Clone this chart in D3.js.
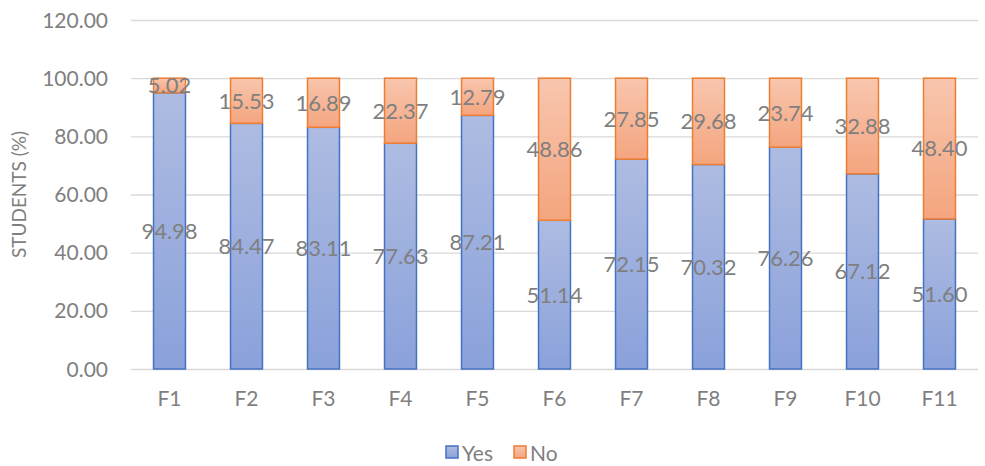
<!DOCTYPE html>
<html>
<head>
<meta charset="utf-8">
<script src="https://cdn.jsdelivr.net/npm/d3@7"></script>
<style>
  body { margin: 0; background: #fff; }
  svg text { font-family: Lato, "Open Sans", sans-serif; fill: #7f7f7f; }
</style>
</head>
<body>
<div id="chart"></div>
<script>
var categories = ["F1", "F2", "F3", "F4", "F5", "F6", "F7", "F8", "F9", "F10", "F11"];
var yesValues = [94.98, 84.47, 83.11, 77.63, 87.21, 51.14, 72.15, 70.32, 76.26, 67.12, 51.60];
var noValues = [5.02, 15.53, 16.89, 22.37, 12.79, 48.86, 27.85, 29.68, 23.74, 32.88, 48.40];
var yTicks = [0, 20, 40, 60, 80, 100, 120];
var seriesNames = ["Yes", "No"];

var width = 985, height = 466;
var margin = { top: 20, right: 7, bottom: 97, left: 131 };

var svg = d3.select("#chart").append("svg")
    .attr("width", width)
    .attr("height", height);

var defs = svg.append("defs");
var gBlue = defs.append("linearGradient").attr("id", "gradYes")
    .attr("x1", 0).attr("y1", 0).attr("x2", 0).attr("y2", 1);
gBlue.append("stop").attr("offset", "0%").attr("stop-color", "#aebce2");
gBlue.append("stop").attr("offset", "100%").attr("stop-color", "#8aa1da");
var gOrange = defs.append("linearGradient").attr("id", "gradNo")
    .attr("x1", 0).attr("y1", 0).attr("x2", 0).attr("y2", 1);
gOrange.append("stop").attr("offset", "0%").attr("stop-color", "#f8c6ae");
gOrange.append("stop").attr("offset", "100%").attr("stop-color", "#f4a57f");

var x = d3.scaleBand()
    .domain(categories)
    .range([margin.left, width - margin.right])
    .paddingInner(0.585)
    .paddingOuter(0.2925);

var y = d3.scaleLinear()
    .domain([0, 120])
    .range([height - margin.bottom, margin.top]);

// gridlines
svg.append("g").selectAll("line")
    .data(yTicks)
    .enter().append("line")
    .attr("x1", margin.left)
    .attr("x2", width - margin.right)
    .attr("y1", function(d) { return y(d) + 0.5; })
    .attr("y2", function(d) { return y(d) + 0.5; })
    .attr("stroke", "#d9d9d9")
    .attr("stroke-width", 1.3);

// y tick labels
svg.append("g").selectAll("text")
    .data(yTicks)
    .enter().append("text")
    .attr("x", 108)
    .attr("y", function(d) { return y(d); })
    .attr("dy", "0.36em")
    .attr("text-anchor", "end")
    .style("font-size", "21px")
    .text(function(d) { return d3.format(".2f")(d); });

// y axis title
svg.append("text")
    .attr("transform", "translate(26," + ((y(0) + y(120)) / 2) + ") rotate(-90)")
    .attr("text-anchor", "middle")
    .style("font-size", "19px")
    .text("STUDENTS (%)");

var rows = categories.map(function(c, i) {
    return { cat: c, yes: yesValues[i], no: noValues[i] };
});

var bars = svg.append("g").selectAll("g")
    .data(rows)
    .enter().append("g");

bars.append("rect")
    .attr("x", function(d) { return x(d.cat); })
    .attr("y", function(d) { return y(d.yes); })
    .attr("width", x.bandwidth())
    .attr("height", function(d) { return y(0) - y(d.yes); })
    .attr("fill", "url(#gradYes)")
    .attr("stroke", "#4472c4")
    .attr("stroke-width", 1.5);

bars.append("rect")
    .attr("x", function(d) { return x(d.cat); })
    .attr("y", function(d) { return y(d.yes + d.no); })
    .attr("width", x.bandwidth())
    .attr("height", function(d) { return y(d.yes) - y(d.yes + d.no); })
    .attr("fill", "url(#gradNo)")
    .attr("stroke", "#ed7d31")
    .attr("stroke-width", 1.5);

// data labels
bars.append("text")
    .attr("x", function(d) { return x(d.cat) + x.bandwidth() / 2; })
    .attr("y", function(d) { return y(d.yes / 2); })
    .attr("dy", "0.36em")
    .attr("text-anchor", "middle")
    .style("font-size", "22px")
    .text(function(d) { return d3.format(".2f")(d.yes); });

bars.append("text")
    .attr("x", function(d) { return x(d.cat) + x.bandwidth() / 2; })
    .attr("y", function(d) { return y(d.yes + d.no / 2); })
    .attr("dy", "0.36em")
    .attr("text-anchor", "middle")
    .style("font-size", "22px")
    .text(function(d) { return d3.format(".2f")(d.no); });

// x labels
svg.append("g").selectAll("text")
    .data(categories)
    .enter().append("text")
    .attr("x", function(d) { return x(d) + x.bandwidth() / 2; })
    .attr("y", 398)
    .attr("dy", "0.36em")
    .attr("text-anchor", "middle")
    .style("font-size", "21px")
    .text(function(d) { return d; });

// legend
var legend = svg.append("g");
var legendItems = [
    { name: seriesNames[0], fill: "url(#gradYes)", stroke: "#4472c4", x: 446 },
    { name: seriesNames[1], fill: "url(#gradNo)", stroke: "#ed7d31", x: 514 }
];
legendItems.forEach(function(d) {
    legend.append("rect")
        .attr("x", d.x)
        .attr("y", 446)
        .attr("width", 12)
        .attr("height", 12)
        .attr("fill", d.fill)
        .attr("stroke", d.stroke)
        .attr("stroke-width", 1.5);
    legend.append("text")
        .attr("x", d.x + 16)
        .attr("y", 453)
        .attr("dy", "0.36em")
        .style("font-size", "21px")
        .text(d.name);
});
</script>
</body>
</html>
